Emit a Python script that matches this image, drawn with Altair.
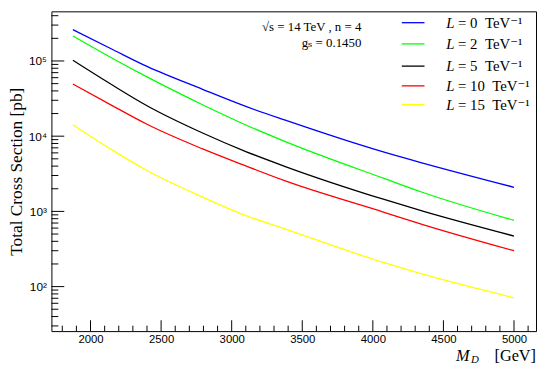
import altair as alt
import pandas as pd

# ---- data ----
md = [1875, 2160, 2400, 2790, 3100, 3380, 4080, 4360, 5000]
xs_L0 = [2.61e5, 1.41e5, 8.47e4, 4.23e4, 2.49e4, 1.63e4, 6.12e3, 4.35e3, 2.09e3]
xs_L2 = [2.15e5, 1.07e5, 6.14e4, 2.64e4, 1.41e4, 8.47e3, 2.74e3, 1.77e3, 760]
xs_L5 = [1.02e5, 4.71e4, 2.54e4, 1.11e4, 6.25e3, 3.95e3, 1.44e3, 1.0e3, 470]
xs_L10 = [4.94e4, 2.51e4, 1.44e4, 6.82e3, 4.02e3, 2.54e3, 973, 663, 300]
xs_L15 = [1.42e4, 6.43e3, 3.50e3, 1.56e3, 880, 583, 208, 145, 71]

series_names = ["L = 0", "L = 2", "L = 5", "L = 10", "L = 15"]
series_values = [xs_L0, xs_L2, xs_L5, xs_L10, xs_L15]
legend_nums = ["0", "2", "5", "10", "15"]
line_colors = ["#0000ff", "#00ff00", "#000000", "#ff0000", "#ffff00"]

x_major = [2000, 2500, 3000, 3500, 4000, 4500, 5000]
x_minor = [v for v in range(1800, 5200, 100) if v % 500 != 0]
y_major = [100, 1000, 10000, 100000]
X_DOMAIN = [1723, 5156]
Y_DOMAIN = [25.6, 4.57e5]
y_minor = [m * 10 ** e for e in range(1, 6) for m in range(2, 10)
           if Y_DOMAIN[0] < m * 10 ** e < Y_DOMAIN[1]]

annot_lines = ["√s = 14 TeV , n = 4", "gₛ = 0.1450"]

# ---- layout ----
W, H = 491, 324
SERIF = "Liberation Serif, DejaVu Serif"
SANS = "Liberation Sans, DejaVu Sans"

xscale = alt.Scale(domain=X_DOMAIN, nice=False, zero=False)
yscale = alt.Scale(type="log", domain=Y_DOMAIN, nice=False)

rows = []
for name, vals in zip(series_names, series_values):
    for x, y in zip(md, vals):
        rows.append({"md": x, "xs": y, "series": name})
df = pd.DataFrame(rows)

ylabel_expr = ("datum.value == 100 ? '10²' : datum.value == 1000 ? '10³' : "
               "datum.value == 10000 ? '10⁴' : '10⁵'")

x_axis = alt.Axis(values=x_major, format="d", ticks=False, tickSize=0, domain=False,
                  grid=False, labelPadding=3, labelFont=SANS, labelFontSize=11.5,
                  labelColor="black", title=None)
y_axis = alt.Axis(values=y_major, labelExpr=ylabel_expr, ticks=False, tickSize=0,
                  domain=False, grid=False, labelPadding=5, labelFont=SANS,
                  labelFontSize=12, labelColor="black",
                  title="Total Cross Section [pb]", titleFont=SERIF, titleFontSize=17.5,
                  titleFontWeight="normal", titleColor="black", titleX=-30,
                  titleY=H / 2, titleBaseline="alphabetic")

lines = alt.Chart(df).mark_line(strokeWidth=1.3, interpolate="monotone", clip=True).encode(
    x=alt.X("md:Q", scale=xscale, axis=x_axis),
    y=alt.Y("xs:Q", scale=yscale, axis=y_axis),
    color=alt.Color("series:N", scale=alt.Scale(domain=series_names, range=line_colors),
                    legend=None),
    detail="series:N",
)

ytick_major = alt.Chart(pd.DataFrame({"xs": y_major})).mark_rule(color="black", strokeWidth=1).encode(
    y=alt.Y("xs:Q", scale=yscale, axis=y_axis), x=alt.value(0), x2=alt.value(13))
ytick_minor = alt.Chart(pd.DataFrame({"xs": y_minor})).mark_rule(color="black", strokeWidth=1).encode(
    y=alt.Y("xs:Q", scale=yscale, axis=y_axis), x=alt.value(0), x2=alt.value(7))
xtick_major = alt.Chart(pd.DataFrame({"md": x_major})).mark_rule(color="black", strokeWidth=1).encode(
    x=alt.X("md:Q", scale=xscale, axis=x_axis), y=alt.value(H), y2=alt.value(H - 11))
xtick_minor = alt.Chart(pd.DataFrame({"md": x_minor})).mark_rule(color="black", strokeWidth=1).encode(
    x=alt.X("md:Q", scale=xscale, axis=x_axis), y=alt.value(H), y2=alt.value(H - 5.5))

layers = [lines, ytick_major, ytick_minor, xtick_major, xtick_minor]

one = pd.DataFrame({"a": [0]})
legend_y = [11.5, 33, 55.5, 75.5, 94.5]
for num, col, yy in zip(legend_nums, line_colors, legend_y):
    layers.append(alt.Chart(one).mark_rule(color=col, strokeWidth=1.3).encode(
        x=alt.value(355), x2=alt.value(378), y=alt.value(yy)))
    layers.append(alt.Chart(one).mark_text(font=SERIF, fontStyle="italic", fontSize=15,
                                           align="left", baseline="middle", color="black").encode(
        x=alt.value(400), y=alt.value(yy), text=alt.value("L")))
    layers.append(alt.Chart(one).mark_text(font=SERIF, fontSize=15, align="left",
                                           baseline="middle", color="black").encode(
        x=alt.value(412), y=alt.value(yy), text=alt.value("= " + num + "\u2002TeV⁻¹")))

for txt, yy in zip(annot_lines, [15.5, 32]):
    layers.append(alt.Chart(one).mark_text(font=SERIF, fontSize=13, align="right",
                                           baseline="middle", color="black").encode(
        x=alt.value(314), y=alt.value(yy), text=alt.value(txt)))

# x-axis title  M_D [GeV]
layers.append(alt.Chart(one).mark_text(font=SERIF, fontStyle="italic", fontSize=16.5, align="left",
                                       baseline="alphabetic", color="black").encode(
    x=alt.value(410), y=alt.value(H + 30), text=alt.value("M")))
layers.append(alt.Chart(one).mark_text(font=SERIF, fontStyle="italic", fontSize=11, align="left",
                                       baseline="alphabetic", color="black").encode(
    x=alt.value(425), y=alt.value(H + 32.5), text=alt.value("D")))
layers.append(alt.Chart(one).mark_text(font=SERIF, fontSize=16.5, align="right",
                                       baseline="alphabetic", color="black").encode(
    x=alt.value(W), y=alt.value(H + 30), text=alt.value("[GeV]")))

chart = alt.layer(*layers).properties(
    width=W, height=H,
    autosize=alt.AutoSizeParams(type="none"),
    padding={"left": 44, "top": 1, "right": 1, "bottom": 36},
    background="white",
).configure_view(stroke="black", strokeWidth=1)

chart.save("out.html", embed_options={"renderer": "svg", "actions": False})
